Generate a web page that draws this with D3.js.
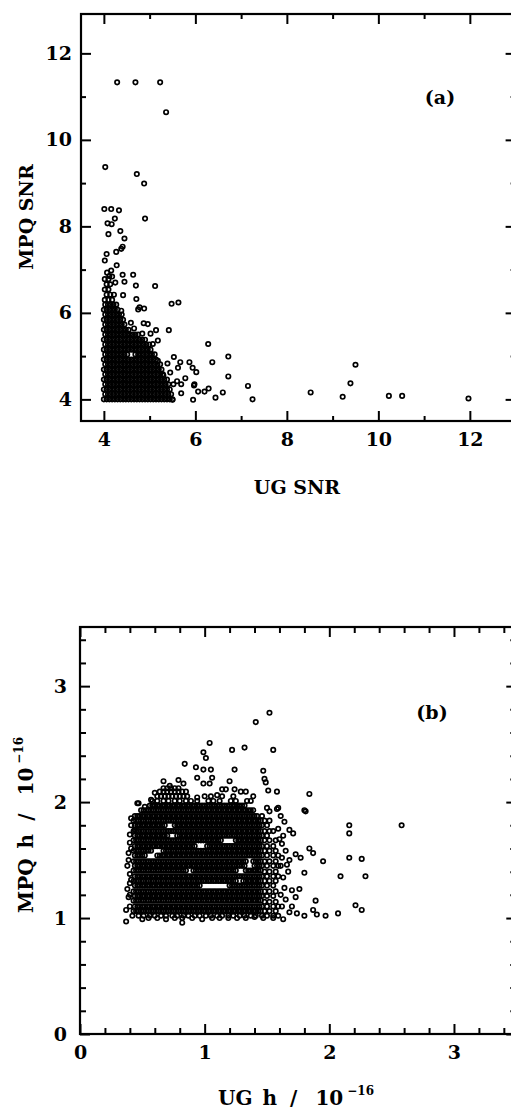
<!DOCTYPE html>
<html><head><meta charset="utf-8">
<script src="https://cdn.jsdelivr.net/npm/d3@7"></script>
<style>body{margin:0;background:#fff}svg{display:block}</style>
</head><body>
<script>
// ---------- Panel (a): UG SNR vs MPQ SNR ----------
const snrXMajor = [4, 6, 8, 10, 12];
const snrXMinor = [5, 7, 9, 11, 13];
const snrYMajor = [4, 6, 8, 10, 12];
const snrYMinor = [5, 7, 9, 11];
// isolated events [UG SNR, MPQ SNR]
const snrSparse = [
[4.29,11.33],[4.69,11.33],[5.23,11.33],[5.36,10.64],[4.03,9.37],[4.72,9.21],[4.88,8.99],
[4.01,8.40],[4.16,8.40],[4.33,8.37],[4.90,8.18],[4.24,8.18],[4.08,8.07],[4.17,8.05],[4.36,7.89],
[4.10,7.82],[4.45,7.72],[4.41,7.53],[4.38,7.48],[4.27,7.41],[4.06,7.36],[4.02,7.21],[4.28,7.10],
[4.07,6.93],[4.16,6.98],[4.18,6.84],[4.41,6.88],[4.64,6.88],[4.12,6.85],[4.45,6.72],[4.25,6.70],
[4.70,6.63],[5.12,6.62],[4.42,6.41],[4.71,6.32],[5.48,6.21],[5.63,6.24],[4.78,6.13],[4.88,6.10],
[4.75,6.08],[4.38,6.05],[4.59,5.77],[4.87,5.76],[4.96,5.74],[5.42,5.60],[5.14,5.60],[5.02,5.52],
[5.18,5.36],[5.07,5.28],[6.28,5.28],[6.72,4.99],[5.53,4.98],[6.37,4.86],[5.18,4.89],[5.39,4.83],
[5.67,4.86],[5.87,4.86],[5.62,4.73],[5.94,4.73],[6.02,4.63],[6.72,4.53],[5.78,4.49],[5.60,4.42],
[5.52,4.35],[5.69,4.35],[5.98,4.35],[5.97,4.32],[7.15,4.31],[6.29,4.25],[6.06,4.18],[6.20,4.18],
[6.60,4.16],[5.69,4.14],[6.44,4.04],[5.95,3.99],[5.50,3.99],[7.25,4.00],[8.52,4.16],[9.50,4.80],
[9.39,4.37],[9.22,4.06],[10.23,4.08],[10.52,4.08],[11.97,4.02],[5.30,4.55],[5.45,4.62],
[4.84,5.52],[4.66,5.64]
];
// crowded events, one row per MPQ SNR level: [MPQ SNR, UG SNR, UG SNR, ...]
const snrDense = [
[4.00,4.00,4.06,4.12,4.18,4.24,4.30,4.36,4.42,4.48,4.54,4.60,4.66,4.72,4.78,4.84,4.90,4.96,5.02,5.08,5.14,5.20,5.26,5.32,5.38,5.44,5.50],
[4.12,4.03,4.09,4.15,4.21,4.27,4.33,4.39,4.45,4.51,4.57,4.63,4.69,4.75,4.81,4.87,4.93,4.99,5.05,5.11,5.17,5.23,5.29,5.35,5.41,5.47],
[4.23,4.00,4.06,4.12,4.18,4.24,4.30,4.36,4.42,4.48,4.54,4.60,4.66,4.72,4.78,4.84,4.90,4.96,5.02,5.08,5.14,5.20,5.26,5.32,5.38,5.44],
[4.35,4.03,4.09,4.15,4.21,4.27,4.33,4.39,4.45,4.51,4.57,4.63,4.69,4.75,4.81,4.87,4.93,4.99,5.05,5.11,5.17,5.23,5.29,5.35,5.41],
[4.46,4.00,4.06,4.12,4.18,4.24,4.30,4.36,4.42,4.48,4.54,4.60,4.66,4.72,4.78,4.84,4.90,4.96,5.02,5.08,5.14,5.20,5.26,5.32,5.38],
[4.58,4.03,4.09,4.15,4.21,4.27,4.33,4.39,4.45,4.51,4.57,4.63,4.69,4.75,4.81,4.87,4.93,4.99,5.05,5.11,5.17,5.23,5.29],
[4.69,4.00,4.06,4.12,4.18,4.24,4.30,4.36,4.42,4.48,4.54,4.60,4.66,4.72,4.78,4.84,4.90,4.96,5.02,5.08,5.14,5.20,5.26],
[4.81,4.03,4.09,4.15,4.21,4.27,4.33,4.39,4.45,4.51,4.57,4.63,4.69,4.75,4.81,4.87,4.93,4.99,5.05,5.11,5.17,5.23],
[4.92,4.00,4.06,4.12,4.18,4.24,4.30,4.36,4.42,4.48,4.54,4.60,4.66,4.72,4.78,4.84,4.90,4.96,5.02,5.08,5.14],
[5.04,4.03,4.09,4.15,4.21,4.27,4.33,4.39,4.45,4.51,4.69,4.75,4.81,4.87,4.93,4.99,5.05,5.11],
[5.15,4.00,4.06,4.12,4.18,4.24,4.30,4.36,4.42,4.48,4.54,4.60,4.66,4.72,4.78,4.84,4.90,4.96,5.02],
[5.27,4.03,4.09,4.15,4.21,4.27,4.33,4.39,4.45,4.51,4.57,4.63,4.69,4.75,4.81,4.87,4.93,4.99],
[5.38,4.00,4.06,4.12,4.18,4.24,4.30,4.36,4.42,4.48,4.54,4.60,4.66,4.72,4.78,4.84,4.90],
[5.50,4.03,4.09,4.15,4.21,4.27,4.33,4.39,4.45,4.51,4.57,4.63,4.69,4.75],
[5.61,4.00,4.06,4.12,4.18,4.24,4.30,4.36,4.42,4.48,4.54],
[5.73,4.03,4.09,4.15,4.21,4.27,4.33,4.39,4.45],
[5.84,4.00,4.06,4.12,4.18,4.24,4.30,4.36,4.42],
[5.96,4.03,4.09,4.15,4.21,4.27,4.33,4.39],
[6.07,4.00,4.06,4.12,4.18,4.24,4.30],
[6.19,4.03,4.09,4.15,4.21,4.27],
[6.30,4.02,4.10,4.18],
[6.42,4.06,4.14,4.22],
[6.54,4.02,4.10],
[6.66,4.06,4.14],
[6.78,4.02,4.10]
];

// ---------- Panel (b): UG h vs MPQ h (units of 1e-16) ----------
const hXMajor = [0, 1, 2, 3];
const hXMinor = [0.2,0.4,0.6,0.8,1.2,1.4,1.6,1.8,2.2,2.4,2.6,2.8,3.2,3.4];
const hYMajor = [0, 1, 2, 3];
const hYMinor = [0.2,0.4,0.6,0.8,1.2,1.4,1.6,1.8,2.2,2.4,2.6,2.8,3.2,3.4];
const hSparse = [
[1.52,2.77],[1.41,2.69],[1.04,2.51],[1.32,2.47],[1.22,2.45],[1.55,2.45],[0.99,2.43],[1.01,2.38],
[0.84,2.33],[0.93,2.30],[0.99,2.28],[1.05,2.28],[1.24,2.28],[1.47,2.27],[0.94,2.21],[1.06,2.21],
[0.99,2.16],[1.04,2.16],[1.20,2.18],[0.67,2.18],[0.79,2.19],[0.83,2.16],[1.49,2.17],[1.48,2.20],
[1.14,2.11],[1.17,2.11],[1.24,2.11],[1.51,2.10],[1.58,2.09],[1.84,2.07],[1.33,2.09],[1.29,2.09],
[1.37,2.01],[1.39,2.05],[0.94,2.04],[1.00,2.05],[0.57,2.02],[0.47,1.99],[0.52,1.96],[1.26,1.97],
[1.50,1.95],[1.52,1.92],[1.59,1.95],[1.80,1.93],[1.58,1.94],[0.60,2.08],[0.72,2.14],[1.10,2.06],
[1.64,1.83],[1.71,1.73],[1.68,1.76],[1.59,1.77],[1.60,1.68],[1.62,1.64],[2.16,1.80],[2.16,1.73],
[2.58,1.80],[2.16,1.52],[2.26,1.51],[1.77,1.52],[1.73,1.55],[1.68,1.50],[1.80,1.39],[1.84,1.60],
[1.87,1.56],[1.95,1.49],[1.81,1.92],[2.09,1.36],[2.29,1.36],[1.76,1.25],[1.70,1.24],[1.64,1.26],
[1.63,1.35],[1.67,1.40],[1.61,1.45],[1.65,1.58],[1.73,1.18],[1.89,1.15],[1.87,1.07],[1.80,1.02],
[1.90,1.03],[1.97,1.02],[2.07,1.04],[2.21,1.11],[2.26,1.07],[1.63,0.99],[1.68,1.05],[1.74,1.04],
[1.62,1.10],[1.65,1.16],[1.70,1.10],[1.61,1.20],[1.62,1.52],[1.66,1.46],[1.61,1.88],[1.63,1.71],
[0.37,0.97],[0.50,0.99],[0.69,0.99],[0.82,0.96],[0.82,1.00],[0.98,0.99],[1.19,1.00],[0.37,1.07],
[0.39,1.56],[0.41,1.33],[0.38,1.25],[0.44,1.76],[0.46,1.99],[0.38,1.45],[0.39,1.18],[0.40,1.38],
[0.40,1.65],[0.55,1.00],[0.62,1.00],[0.76,1.00],[0.90,1.00],[1.06,1.00],[1.12,1.00],[1.26,1.00],
[1.33,1.00],[1.40,1.01],[1.47,1.00],[1.55,1.00],[0.41,1.86],[0.40,1.10],[0.40,1.20],[0.40,1.30],
[0.39,1.50],[0.41,1.60],[0.40,1.72],[0.41,1.80]
];
// looser rings around the edge of the crowd: [MPQ h, UG h, UG h, ...]
const hLoose = [
[1.02,0.42,0.47,0.51,0.56,0.60,0.65,0.69,0.74,0.78,0.83,0.87,0.92,0.96,1.01,1.05,1.10,1.14,1.19,1.23,1.28,1.32,1.37,1.41,1.46,1.50,1.55,1.59],
[1.06,1.48,1.52,1.57],[1.10,1.46,1.50,1.55,1.59],[1.14,1.48,1.52,1.57],[1.19,1.46,1.50,1.55],
[1.23,1.48,1.52,1.57],[1.28,1.46,1.50,1.55],[1.32,1.48,1.52,1.57],[1.36,1.46,1.50,1.55,1.59],
[1.40,1.48,1.52,1.57],[1.45,1.46,1.50,1.55,1.59],[1.49,1.48,1.52,1.57],[1.54,1.46,1.50,1.55,1.59],
[1.58,1.48,1.52,1.57],[1.62,1.46,1.50,1.55],[1.67,1.48,1.52,1.57],[1.71,1.46,1.50],
[1.75,1.48,1.52,1.55],[1.80,1.46,1.50],[1.84,1.48,1.52],[1.88,1.46],
[2.01,0.58,0.62,0.67,0.71,0.76,0.80,0.85,0.89,0.94,1.03,1.07,1.12,1.21,1.25,1.34],
[2.05,0.62,0.65,0.68,0.71,0.74,0.77,0.80,0.83,0.86,1.05,1.14,1.23],
[2.09,0.64,0.67,0.70,0.73,0.76,0.79,0.82,0.85],
[2.12,0.67,0.70,0.73,0.76,0.79]
];
// the black core of the crowd: [MPQ h, UG h, UG h, ...]
const hDense = [
[1.06,0.43,0.45,0.47,0.49,0.51,0.53,0.55,0.57,0.59,0.61,0.63,0.65,0.67,0.69,0.71,0.73,0.75,0.77,0.79,0.81,0.83,0.85,0.87,0.89,0.91,0.93,0.95,0.97,0.99,1.01,1.03,1.05,1.07,1.09,1.11,1.13,1.15,1.17,1.19,1.21,1.23,1.25,1.27,1.29,1.31,1.33,1.35,1.37,1.39,1.41,1.43,1.45],
[1.10,0.44,0.46,0.48,0.50,0.52,0.54,0.56,0.58,0.60,0.62,0.64,0.66,0.68,0.70,0.72,0.74,0.76,0.78,0.80,0.82,0.84,0.86,0.88,0.90,0.92,0.94,0.96,0.98,1.00,1.02,1.04,1.06,1.08,1.10,1.12,1.14,1.16,1.18,1.20,1.22,1.24,1.26,1.28,1.30,1.32,1.34,1.36,1.38,1.40,1.42,1.44],
[1.15,0.43,0.45,0.47,0.49,0.51,0.53,0.55,0.57,0.59,0.61,0.63,0.65,0.67,0.69,0.71,0.73,0.75,0.77,0.79,0.81,0.83,0.85,0.87,0.89,0.91,0.93,0.95,0.97,0.99,1.01,1.03,1.05,1.07,1.09,1.11,1.13,1.15,1.17,1.19,1.21,1.23,1.25,1.27,1.29,1.31,1.33,1.35,1.37,1.39,1.41,1.43,1.45],
[1.19,0.44,0.46,0.48,0.50,0.52,0.54,0.56,0.58,0.60,0.62,0.64,0.66,0.68,0.70,0.72,0.74,0.76,0.78,0.80,0.82,0.84,0.86,0.88,0.90,0.92,0.94,0.96,0.98,1.00,1.02,1.04,1.06,1.08,1.10,1.12,1.14,1.16,1.18,1.20,1.22,1.24,1.26,1.28,1.30,1.32,1.34,1.36,1.38,1.40,1.42,1.44],
[1.23,0.43,0.45,0.47,0.49,0.51,0.53,0.55,0.57,0.59,0.61,0.63,0.65,0.67,0.69,0.71,0.73,0.75,0.77,0.79,0.81,0.83,0.85,0.87,0.89,0.91,0.93,0.95,0.97,0.99,1.01,1.03,1.05,1.07,1.09,1.11,1.13,1.15,1.17,1.19,1.21,1.23,1.25,1.27,1.29,1.31,1.33,1.35,1.37,1.39,1.41,1.43,1.45],
[1.28,0.44,0.46,0.48,0.50,0.52,0.54,0.56,0.58,0.60,0.62,0.64,0.66,0.68,0.70,0.72,0.74,0.76,0.78,0.80,0.82,0.84,0.86,0.88,0.90,0.92,0.94,0.96,1.20,1.22,1.24,1.26,1.28,1.30,1.32,1.34,1.36,1.38,1.40,1.42,1.44],
[1.32,0.43,0.45,0.47,0.49,0.51,0.53,0.55,0.57,0.59,0.61,0.63,0.65,0.67,0.69,0.71,0.73,0.75,0.77,0.79,0.81,0.83,0.85,0.87,0.89,0.91,0.93,0.95,0.97,0.99,1.01,1.03,1.05,1.07,1.09,1.11,1.13,1.15,1.17,1.19,1.21,1.23,1.25,1.31,1.33,1.35,1.37,1.39,1.41,1.43,1.45],
[1.36,0.44,0.46,0.48,0.50,0.52,0.54,0.56,0.58,0.60,0.62,0.64,0.66,0.68,0.70,0.72,0.74,0.76,0.78,0.80,0.82,0.84,0.86,0.88,0.90,0.92,0.94,0.96,0.98,1.00,1.02,1.04,1.06,1.08,1.10,1.12,1.14,1.16,1.18,1.20,1.22,1.24,1.26,1.28,1.30,1.32,1.34,1.36,1.38,1.40,1.42,1.44],
[1.41,0.43,0.45,0.47,0.49,0.51,0.53,0.55,0.57,0.59,0.61,0.63,0.65,0.67,0.69,0.71,0.73,0.75,0.77,0.79,0.81,0.83,0.85,0.91,0.93,0.95,0.97,0.99,1.01,1.03,1.05,1.07,1.09,1.11,1.13,1.15,1.17,1.19,1.21,1.23,1.25,1.33,1.35,1.37,1.39,1.41,1.43,1.45],
[1.45,0.44,0.46,0.48,0.50,0.52,0.54,0.56,0.58,0.60,0.62,0.64,0.66,0.68,0.70,0.72,0.74,0.76,0.78,0.80,0.82,0.84,0.86,0.88,0.90,0.92,0.94,0.96,0.98,1.00,1.02,1.04,1.06,1.08,1.10,1.12,1.14,1.16,1.18,1.20,1.22,1.24,1.26,1.28,1.30,1.32,1.40,1.42,1.44],
[1.49,0.43,0.45,0.47,0.49,0.51,0.53,0.55,0.57,0.59,0.61,0.63,0.65,0.67,0.69,0.71,0.73,0.75,0.77,0.79,0.81,0.83,0.85,0.87,0.89,0.91,0.93,0.95,0.97,0.99,1.01,1.03,1.05,1.07,1.09,1.11,1.13,1.15,1.17,1.19,1.21,1.23,1.25,1.27,1.29,1.31,1.33,1.39,1.41,1.43,1.45],
[1.54,0.44,0.46,0.48,0.50,0.52,0.62,0.64,0.66,0.68,0.70,0.72,0.74,0.76,0.78,0.80,0.82,0.84,0.86,0.88,0.90,0.92,0.94,0.96,0.98,1.00,1.02,1.04,1.06,1.08,1.10,1.12,1.14,1.16,1.18,1.20,1.22,1.24,1.26,1.28,1.30,1.32,1.34,1.36,1.38,1.40,1.42,1.44],
[1.58,0.43,0.45,0.47,0.49,0.51,0.53,0.55,0.57,0.67,0.69,0.71,0.73,0.75,0.77,0.79,0.81,0.83,0.85,0.87,0.89,0.91,0.93,0.95,0.97,0.99,1.01,1.03,1.05,1.07,1.09,1.11,1.13,1.15,1.17,1.19,1.21,1.23,1.25,1.27,1.29,1.31,1.33,1.35,1.37,1.39,1.41,1.43,1.45],
[1.62,0.44,0.46,0.48,0.50,0.52,0.54,0.56,0.58,0.60,0.62,0.64,0.66,0.68,0.70,0.72,0.74,0.76,0.78,0.80,0.82,0.84,0.86,0.88,0.90,0.92,1.02,1.04,1.06,1.08,1.10,1.12,1.14,1.16,1.18,1.20,1.22,1.24,1.26,1.28,1.30,1.32,1.34,1.36,1.38,1.40,1.42,1.44],
[1.67,0.43,0.45,0.47,0.49,0.51,0.53,0.55,0.57,0.59,0.61,0.63,0.65,0.67,0.69,0.71,0.73,0.75,0.77,0.79,0.81,0.83,0.85,0.87,0.89,0.91,0.93,0.95,0.97,0.99,1.01,1.03,1.05,1.07,1.09,1.11,1.13,1.25,1.27,1.29,1.31,1.33,1.35,1.37,1.39,1.41,1.43,1.45],
[1.71,0.44,0.46,0.48,0.50,0.52,0.54,0.56,0.58,0.60,0.62,0.64,0.66,0.68,0.70,0.78,0.80,0.82,0.84,0.86,0.88,0.90,0.92,0.94,0.96,0.98,1.00,1.02,1.04,1.06,1.08,1.10,1.12,1.14,1.16,1.18,1.20,1.22,1.24,1.26,1.28,1.30,1.32,1.34,1.36,1.38,1.40,1.42,1.44],
[1.75,0.43,0.45,0.47,0.49,0.51,0.53,0.55,0.57,0.59,0.61,0.63,0.65,0.67,0.69,0.71,0.73,0.75,0.77,0.79,0.81,0.83,0.85,0.87,0.89,0.91,0.93,0.95,0.97,0.99,1.01,1.03,1.05,1.07,1.09,1.11,1.13,1.15,1.17,1.19,1.21,1.23,1.25,1.27,1.29,1.31,1.33,1.35,1.37,1.39,1.41,1.43,1.45],
[1.80,0.44,0.46,0.48,0.50,0.52,0.54,0.56,0.58,0.60,0.62,0.64,0.66,0.68,0.76,0.78,0.80,0.82,0.84,0.86,0.88,0.90,0.92,0.94,0.96,0.98,1.00,1.02,1.04,1.06,1.08,1.10,1.12,1.14,1.16,1.18,1.20,1.22,1.24,1.26,1.28,1.30,1.32,1.34,1.36,1.38,1.40,1.42,1.44],
[1.84,0.43,0.45,0.47,0.49,0.51,0.53,0.55,0.57,0.59,0.61,0.63,0.65,0.67,0.69,0.71,0.73,0.75,0.77,0.79,0.81,0.83,0.85,0.87,0.89,0.91,0.93,0.95,0.97,0.99,1.01,1.03,1.05,1.07,1.09,1.11,1.13,1.15,1.17,1.19,1.21,1.23,1.25,1.27,1.29,1.31,1.33,1.35,1.37,1.39,1.41,1.43,1.45],
[1.88,0.44,0.46,0.48,0.50,0.52,0.54,0.56,0.58,0.60,0.62,0.64,0.66,0.68,0.70,0.72,0.74,0.76,0.78,0.80,0.82,0.84,0.86,0.88,0.90,0.92,0.94,0.96,0.98,1.00,1.02,1.04,1.06,1.08,1.10,1.12,1.14,1.16,1.18,1.20,1.22,1.24,1.26,1.28,1.30,1.32,1.34,1.36,1.38,1.40,1.42],
[1.93,0.49,0.51,0.53,0.55,0.57,0.59,0.61,0.63,0.65,0.67,0.69,0.71,0.73,0.75,0.77,0.79,0.81,0.83,0.85,0.87,0.89,0.91,0.93,0.95,0.97,0.99,1.01,1.03,1.05,1.07,1.09,1.11,1.13,1.15,1.17,1.19,1.21,1.23,1.25,1.27,1.29,1.31,1.33,1.35,1.37,1.39],
[1.97,0.56,0.58,0.60,0.62,0.64,0.66,0.68,0.70,0.72,0.74,0.76,0.78,0.80,0.82,0.84,0.86,0.88,0.90,0.92,0.94,0.96,0.98,1.00,1.02,1.04,1.06,1.08,1.10,1.12,1.14,1.16,1.18,1.20,1.22,1.24,1.26,1.28,1.30,1.32]
];

// ---------- drawing ----------
const W = 511, H = 1109;
const FONT = "'DejaVu Serif', serif";
const FS = 19;
const svg = d3.select("body").append("svg").attr("width", W).attr("height", H)
  .attr("font-family", FONT).attr("font-weight", "bold");

function expand(sparse, ...rowSets) {
  const pts = sparse.map(p => ({x: p[0], y: p[1]}));
  rowSets.forEach(rows => rows.forEach(row =>
    row.slice(1).forEach(x => pts.push({x: x, y: row[0]}))));
  return pts;
}

function panel(o) {
  const x = d3.scaleLinear().domain(o.xDom).range(o.xRange);
  const y = d3.scaleLinear().domain(o.yDom).range(o.yRange);
  const g = svg.append("g");
  const [x0, x1] = o.xRange, [y0, y1] = o.yRange;

  const fix = (s) => {
    s.select(".domain").remove();
    s.selectAll(".tick line").attr("stroke", "#000").attr("stroke-width", 2);
    s.selectAll("text").attr("font-size", FS).attr("font-weight", "bold")
      .attr("font-family", FONT).attr("fill", "#000");
  };
  const mk = (gen, tr, vals, len, labels, pad) => {
    const a = gen.tickValues(vals).tickSizeInner(-len).tickSizeOuter(0).tickPadding(pad || 0)
      .tickFormat(labels ? d3.format("d") : () => "");
    g.append("g").attr("transform", tr).call(a).call(fix);
  };
  mk(d3.axisBottom(x), `translate(0,${y0})`, o.xMajor, o.maj, true, o.xPad);
  mk(d3.axisBottom(x), `translate(0,${y0})`, o.xMinor, o.min, false);
  mk(d3.axisTop(x), `translate(0,${y1})`, o.xMajor, o.maj, false);
  mk(d3.axisTop(x), `translate(0,${y1})`, o.xMinor, o.min, false);
  mk(d3.axisLeft(y), `translate(${x0},0)`, o.yMajor, o.maj, true, o.yPad);
  mk(d3.axisLeft(y), `translate(${x0},0)`, o.yMinor, o.min, false);
  mk(d3.axisRight(y), `translate(${x1},0)`, o.yMajor, o.maj, false);
  mk(d3.axisRight(y), `translate(${x1},0)`, o.yMinor, o.min, false);

  g.append("rect").attr("x", x0).attr("y", y1).attr("width", x1 - x0).attr("height", y0 - y1)
    .attr("fill", "none").attr("stroke", "#000").attr("stroke-width", 2.2);

  g.append("g").selectAll("circle").data(o.pts).join("circle")
    .attr("cx", d => x(d.x)).attr("cy", d => y(d.y)).attr("r", 2.2)
    .attr("fill", "none").attr("stroke", "#000").attr("stroke-width", 1.7);

  g.append("text").attr("x", o.tag[0]).attr("y", o.tag[1])
    .attr("text-anchor", "middle").attr("font-size", FS).text(o.tagText);
}

panel({
  xDom: [3.5, 13], xRange: [81, 515.6],
  yDom: [3.5, 12.91], yRange: [421, 14],
  xMajor: snrXMajor, xMinor: snrXMinor, yMajor: snrYMajor, yMinor: snrYMinor,
  maj: 10, min: 5, xPad: 12, yPad: 9,
  pts: expand(snrSparse, snrDense),
  tag: [440, 104], tagText: "(a)"
});
panel({
  xDom: [0, 3.5], xRange: [80, 516.3],
  yDom: [0, 3.51], yRange: [1034, 627],
  xMajor: hXMajor, xMinor: hXMinor, yMajor: hYMajor, yMinor: hYMinor,
  maj: 10, min: 6, xPad: 12, yPad: 13,
  pts: expand(hSparse, hLoose, hDense),
  tag: [432, 719], tagText: "(b)"
});

// axis titles
svg.append("text").attr("x", 297).attr("y", 494).attr("text-anchor", "middle")
  .attr("font-size", FS).text("UG SNR");
svg.append("text").attr("transform", "translate(33,217) rotate(-90)")
  .attr("text-anchor", "middle").attr("font-size", FS).text("MPQ SNR");

function hTitle(sel, first) {
  sel.attr("font-size", 20);
  sel.append("tspan").text(first);
  sel.append("tspan").attr("dx", 10).text("h");
  sel.append("tspan").attr("dx", 13).text("/");
  sel.append("tspan").attr("dx", 18).text("10");
  sel.append("tspan").attr("dx", 4).attr("dy", -10).attr("font-size", 12).text("\u221216");
}
hTitle(svg.append("text").attr("x", 218).attr("y", 1105), "UG");
hTitle(svg.append("text").attr("transform", "translate(33,913) rotate(-90)"), "MPQ");
</script>
</body></html>
